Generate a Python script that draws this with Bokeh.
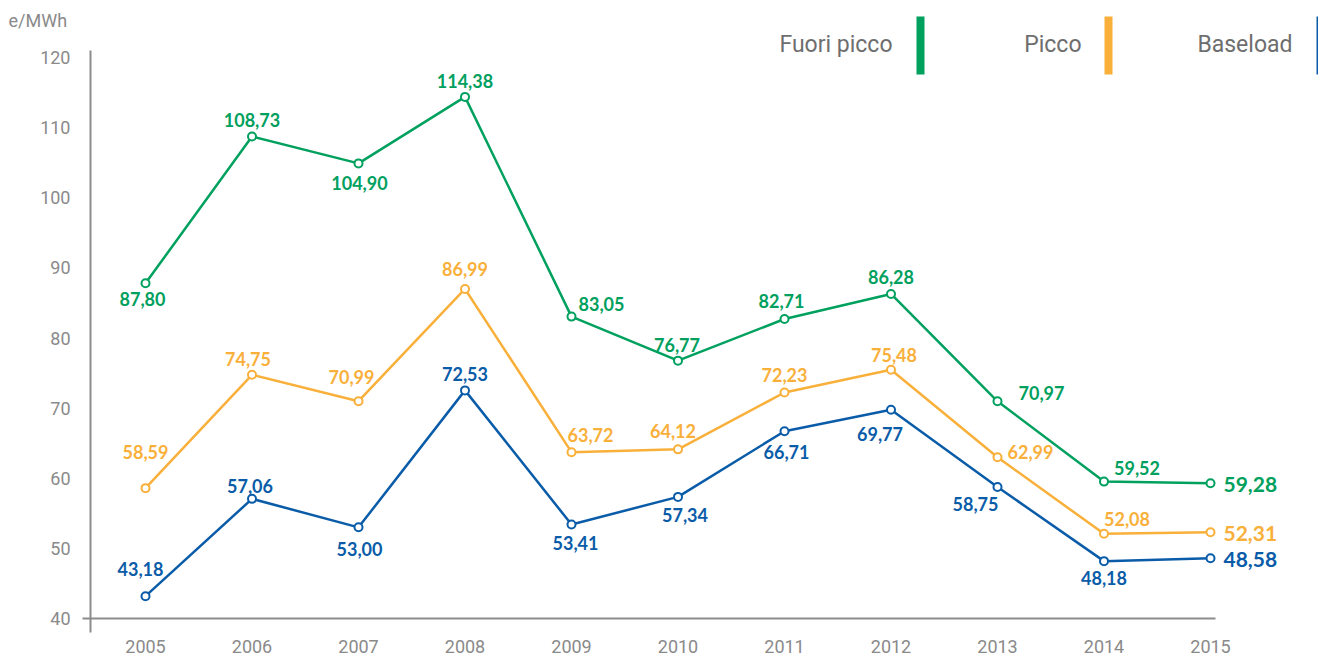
from bokeh.plotting import figure
from bokeh.models import Range1d, FixedTicker, ColumnDataSource
from bokeh.core.properties import value
from bokeh.embed import file_html
from bokeh.resources import INLINE

# ---------------- data ----------------
years = [2005, 2006, 2007, 2008, 2009, 2010, 2011, 2012, 2013, 2014, 2015]
fuori_picco = [87.80, 108.73, 104.90, 114.38, 83.05, 76.77, 82.71, 86.28, 70.97, 59.52, 59.28]
picco = [58.59, 74.75, 70.99, 86.99, 63.72, 64.12, 72.23, 75.48, 62.99, 52.08, 52.31]
baseload = [43.18, 57.06, 53.00, 72.53, 53.41, 57.34, 66.71, 69.77, 58.75, 48.18, 48.58]
y_ticks = [40, 50, 60, 70, 80, 90, 100, 110, 120]
unit_label = "e/MWh"
series_names = ["Fuori picco", "Picco", "Baseload"]

# ---------------- label placement (screen px offsets, style only) ----------------
off_fuori = [(-3, 16), (0, -17), (1, 20), (0, -16), (30, -13), (-1, -16), (-3, -18), (0, -17), (44, -8), (33, -14)]
off_picco = [(0, -36), (-4, -16), (-7, -24), (0, -20), (19, -17), (-5, -18), (0, -17), (3, -15), (33, -5), (23, -15)]
off_base = [(-5, -27), (-2, -13), (1, 22), (0, -16), (4, 19), (7, 18), (2, 21), (-11, 24), (-22, 17), (0, 17)]

GREEN = "#00A05E"
ORANGE = "#F9B03B"
BLUE = "#0A5CA8"
AXIS = "#8C8C8C"
TICK_TXT = "#8A8A8A"
LEG_TXT = "#6E6E6E"

# ---------------- geometry (picture px <-> data) ----------------
W, H = 1318, 662
X_PX0, PX_PER_YEAR = 145, 106.5          # 2005 sits at px 145
Y_PX40, Y_PX120 = 618, 57                # value 40 / 120 rows
PX_PER_UNIT = (Y_PX40 - Y_PX120) / 80.0


def px_x(px):
    return years[0] + (px - X_PX0) / PX_PER_YEAR


def px_y(py):
    return y_ticks[0] + (Y_PX40 - py) / PX_PER_UNIT


p = figure(width=W, height=H,
           x_range=Range1d(px_x(0), px_x(W)), y_range=Range1d(px_y(H), px_y(0)),
           output_backend="svg", toolbar_location=None, min_border=0)
p.outline_line_color = None
p.xgrid.visible = False
p.ygrid.visible = False
p.background_fill_color = "white"
p.border_fill_color = "white"

# y axis, drawn inside the frame at a fixed x
yax = p.yaxis[0]
yax.fixed_location = px_x(90)
yax.ticker = FixedTicker(ticks=y_ticks)
yax.major_tick_out = 0
yax.major_tick_in = 0
yax.minor_tick_out = 0
yax.minor_tick_in = 0
yax.axis_line_color = AXIS
yax.axis_line_width = 2
yax.bounds = (px_y(632), px_y(50))
yax.major_label_text_font = "Roboto"
yax.major_label_text_font_size = "18px"
yax.major_label_text_color = TICK_TXT
yax.major_label_standoff = 20

# x axis, drawn at value 40
xax = p.xaxis[0]
xax.fixed_location = y_ticks[0]
xax.ticker = FixedTicker(ticks=years)
xax.axis_line_color = AXIS
xax.axis_line_width = 2
xax.bounds = (px_x(82), px_x(1215))
xax.major_tick_out = 0
xax.major_tick_in = 0
xax.minor_tick_out = 0
xax.minor_tick_in = 0
xax.major_label_text_font = "Roboto"
xax.major_label_text_font_size = "18px"
xax.major_label_text_color = TICK_TXT
xax.major_label_standoff = 21

# unit label
p.text(x=[px_x(8)], y=[px_y(20)], text=[unit_label], text_baseline="middle",
       text_align="left", text_font=value("Roboto"), text_font_size="18px",
       text_color=TICK_TXT)


def fmt(v):
    return f"{v:.2f}".replace(".", ",")


for vals, col, offs in [(fuori_picco, GREEN, off_fuori), (picco, ORANGE, off_picco),
                        (baseload, BLUE, off_base)]:
    p.line(years, vals, line_color=col, line_width=2.5)
    p.scatter(years, vals, marker="circle", size=8, fill_color="white",
              line_color=col, line_width=2)
    src = ColumnDataSource(dict(x=years[:-1], y=vals[:-1], t=[fmt(v) for v in vals[:-1]],
                                dx=[o[0] for o in offs], dy=[o[1] for o in offs]))
    p.text(x="x", y="y", text="t", x_offset="dx", y_offset="dy", source=src,
           text_align="center", text_baseline="middle", text_color=col,
           text_font=value("Lato"), text_font_style="bold", text_font_size="18px")
    end_src = ColumnDataSource(dict(x=years[-1:], y=vals[-1:], t=[fmt(vals[-1])]))
    p.text(x="x", y="y", text="t", x_offset=13, y_offset=1, source=end_src,
           text_align="left", text_baseline="middle", text_color=col,
           text_font=value("Lato"), text_font_style="bold", text_font_size="21px")

# legend (text right-aligned, coloured bar to its right)
leg_text_right = [892, 1081, 1292]
leg_bar_left = [916, 1104, 1316]
for name, col, tr, bl in zip(series_names, [GREEN, ORANGE, BLUE], leg_text_right, leg_bar_left):
    p.text(x=[px_x(tr)], y=[px_y(44)], text=[name], text_align="right", text_baseline="middle",
           text_color=LEG_TXT, text_font=value("Roboto"), text_font_size="23px")
    p.quad(left=[px_x(bl)], right=[px_x(bl + 8)], top=[px_y(16)], bottom=[px_y(74)],
           fill_color=col, line_color=None)

open("out.html", "w").write(file_html(p, INLINE))
